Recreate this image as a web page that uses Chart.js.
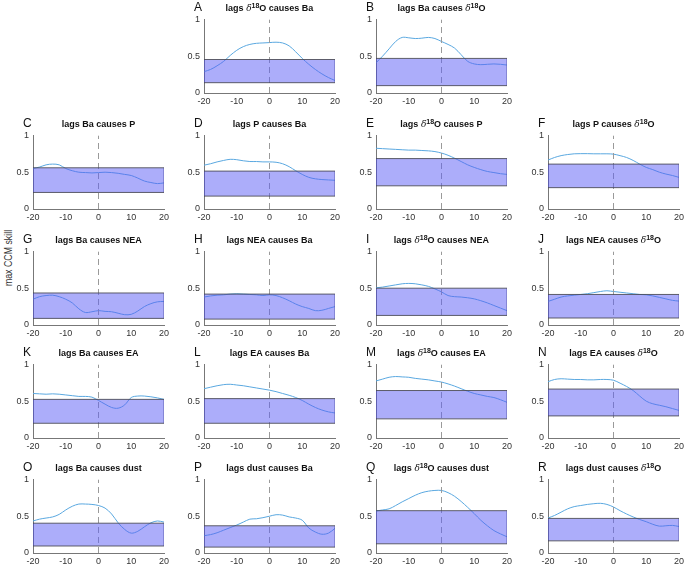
<!DOCTYPE html>
<html>
<head>
<meta charset="utf-8">
<script src="https://cdn.jsdelivr.net/npm/chart.js@4.4.0/dist/chart.umd.min.js"></script>
<style>
    body { margin: 0; background: #fff; }
    #figure { position: relative; width: 685px; height: 566px; overflow: hidden; font-family: "Liberation Sans", Arial, Helvetica, sans-serif; }
    #figure canvas { position: absolute; }
    .panel-title { position: absolute; font-size: 9px; font-weight: bold; line-height: 9px; text-align: center; white-space: nowrap; color: #111; }
    .panel-title i { font-family: "DejaVu Serif", "Liberation Serif", serif; font-weight: normal; font-size: 9px; }
    .panel-title sup { font-size: 7px; line-height: 0; vertical-align: 3px; }
    .panel-letter { position: absolute; font-size: 12px; line-height: 12px; color: #111; }
    #ylabel { position: absolute; left: 8px; top: 258px; transform: translate(-50%, -50%) rotate(-90deg) scaleX(0.88); font-size: 10px; white-space: nowrap; color: #333; }
</style>
</head>
<body>
<div id="figure">
    <div id="ylabel">max CCM skill</div>
</div>
<script>
// lag axis (years) shared by every panel
const lags = [-20, -18, -16, -14, -12, -10, -8, -6, -4, -2, 0, 2, 4, 6, 8, 10, 12, 14, 16, 18, 20];
const xTicks = [-20, -10, 0, 10, 20];
const yTicks = [0, 0.5, 1];

const panelLetters = ['A', 'B', 'C', 'D', 'E', 'F', 'G', 'H', 'I', 'J', 'K', 'L', 'M', 'N', 'O', 'P', 'Q', 'R'];
const d18O = '<i>\u03b4</i><sup>18</sup>O';
const panelTitles = [
    'lags ' + d18O + ' causes Ba', 'lags Ba causes ' + d18O,
    'lags Ba causes P', 'lags P causes Ba', 'lags ' + d18O + ' causes P', 'lags P causes ' + d18O,
    'lags Ba causes NEA', 'lags NEA causes Ba', 'lags ' + d18O + ' causes NEA', 'lags NEA causes ' + d18O,
    'lags Ba causes EA', 'lags EA causes Ba', 'lags ' + d18O + ' causes EA', 'lags EA causes ' + d18O,
    'lags Ba causes dust', 'lags dust causes Ba', 'lags ' + d18O + ' causes dust', 'lags dust causes ' + d18O
];

// max CCM skill per lag
const skillA = [0.29, 0.32, 0.37, 0.43, 0.51, 0.58, 0.63, 0.66, 0.675, 0.68, 0.685, 0.69, 0.68, 0.64, 0.56, 0.47, 0.39, 0.32, 0.26, 0.21, 0.17];
const skillB = [0.41, 0.50, 0.60, 0.70, 0.755, 0.75, 0.74, 0.745, 0.755, 0.74, 0.70, 0.66, 0.61, 0.52, 0.43, 0.395, 0.385, 0.39, 0.395, 0.39, 0.38];
const skillC = [0.55, 0.57, 0.60, 0.61, 0.60, 0.55, 0.52, 0.50, 0.495, 0.49, 0.495, 0.50, 0.495, 0.485, 0.47, 0.455, 0.42, 0.38, 0.36, 0.345, 0.355];
const skillD = [0.595, 0.615, 0.64, 0.66, 0.675, 0.67, 0.655, 0.645, 0.645, 0.64, 0.64, 0.635, 0.615, 0.575, 0.52, 0.47, 0.43, 0.41, 0.40, 0.395, 0.39];
const skillE = [0.825, 0.82, 0.815, 0.81, 0.805, 0.80, 0.80, 0.795, 0.79, 0.78, 0.76, 0.73, 0.69, 0.645, 0.60, 0.565, 0.535, 0.51, 0.495, 0.48, 0.47];
const skillF = [0.665, 0.70, 0.725, 0.74, 0.75, 0.752, 0.752, 0.75, 0.75, 0.75, 0.745, 0.725, 0.70, 0.66, 0.61, 0.565, 0.535, 0.50, 0.475, 0.455, 0.43];
const skillG = [0.35, 0.385, 0.40, 0.405, 0.385, 0.35, 0.30, 0.22, 0.17, 0.18, 0.195, 0.185, 0.18, 0.16, 0.14, 0.145, 0.19, 0.25, 0.29, 0.315, 0.32];
const skillH = [0.38, 0.395, 0.405, 0.41, 0.42, 0.425, 0.42, 0.415, 0.41, 0.40, 0.41, 0.40, 0.37, 0.33, 0.285, 0.25, 0.225, 0.195, 0.20, 0.225, 0.25];
const skillI = [0.505, 0.515, 0.53, 0.545, 0.56, 0.565, 0.56, 0.545, 0.525, 0.49, 0.45, 0.40, 0.385, 0.38, 0.37, 0.355, 0.33, 0.30, 0.265, 0.23, 0.195];
const skillJ = [0.32, 0.35, 0.38, 0.395, 0.405, 0.415, 0.425, 0.44, 0.455, 0.465, 0.455, 0.445, 0.435, 0.425, 0.415, 0.41, 0.395, 0.375, 0.355, 0.335, 0.325];
const skillK = [0.605, 0.60, 0.595, 0.60, 0.595, 0.585, 0.575, 0.565, 0.565, 0.555, 0.51, 0.46, 0.415, 0.405, 0.45, 0.55, 0.57, 0.57, 0.56, 0.545, 0.525];
const skillL = [0.67, 0.69, 0.71, 0.725, 0.73, 0.72, 0.71, 0.695, 0.68, 0.665, 0.65, 0.63, 0.605, 0.58, 0.55, 0.51, 0.46, 0.415, 0.38, 0.355, 0.34];
const skillM = [0.775, 0.80, 0.825, 0.835, 0.83, 0.825, 0.81, 0.80, 0.79, 0.775, 0.76, 0.735, 0.705, 0.67, 0.635, 0.605, 0.585, 0.565, 0.55, 0.52, 0.485];
const skillN = [0.765, 0.795, 0.805, 0.80, 0.795, 0.795, 0.79, 0.79, 0.795, 0.795, 0.785, 0.745, 0.70, 0.645, 0.57, 0.50, 0.465, 0.445, 0.425, 0.40, 0.375];
const skillO = [0.435, 0.46, 0.475, 0.49, 0.525, 0.585, 0.635, 0.665, 0.665, 0.66, 0.645, 0.61, 0.53, 0.41, 0.32, 0.27, 0.295, 0.355, 0.41, 0.435, 0.42];
const skillP = [0.235, 0.25, 0.275, 0.31, 0.345, 0.38, 0.42, 0.46, 0.465, 0.48, 0.50, 0.52, 0.515, 0.49, 0.475, 0.445, 0.34, 0.285, 0.255, 0.27, 0.335];
const skillQ = [0.57, 0.585, 0.60, 0.645, 0.695, 0.74, 0.785, 0.82, 0.84, 0.85, 0.85, 0.82, 0.77, 0.70, 0.62, 0.535, 0.445, 0.37, 0.305, 0.26, 0.22];
const skillR = [0.475, 0.51, 0.555, 0.60, 0.63, 0.645, 0.66, 0.67, 0.675, 0.66, 0.625, 0.575, 0.53, 0.49, 0.455, 0.425, 0.39, 0.365, 0.37, 0.375, 0.36];

// null-model band (shaded box) for each panel, A..R
const bandLow  = [0.14, 0.10, 0.225, 0.175, 0.315, 0.29, 0.09, 0.08, 0.13, 0.095, 0.20, 0.20, 0.26, 0.30, 0.095, 0.08, 0.125, 0.165];
const bandHigh = [0.455, 0.47, 0.56, 0.515, 0.685, 0.61, 0.435, 0.42, 0.50, 0.415, 0.525, 0.535, 0.645, 0.665, 0.405, 0.37, 0.575, 0.47];

const allSkills = [skillA, skillB, skillC, skillD, skillE, skillF, skillG, skillH, skillI, skillJ, skillK, skillL, skillM, skillN, skillO, skillP, skillQ, skillR];

// layout of the grid (pixels)
const colLeft = [33, 204, 376, 548];
const rowTop = [16, 132, 248, 361, 476];
const plotW = 131;
const plotH = 77;
const padL = 30, padT = 6, padR = 10, padB = 18;

const figure = document.getElementById('figure');

function panelSlot(i) {
    if (i < 2) return { col: i + 1, row: 0 };
    return { col: (i - 2) % 4, row: 1 + Math.floor((i - 2) / 4) };
}

const tickFont = { size: 9, family: '"Liberation Sans", Arial, sans-serif' };

allSkills.forEach((skill, i) => {
    const slot = panelSlot(i);
    const left = colLeft[slot.col];
    const top = rowTop[slot.row];

    const canvas = document.createElement('canvas');
    canvas.width = padL + plotW + padR;
    canvas.height = padT + plotH + padB;
    canvas.style.left = (left - padL) + 'px';
    canvas.style.top = (top - padT) + 'px';
    figure.appendChild(canvas);

    const title = document.createElement('div');
    title.className = 'panel-title';
    title.style.left = left + 'px';
    title.style.width = plotW + 'px';
    title.style.top = (top - 12) + 'px';
    title.innerHTML = panelTitles[i];
    figure.appendChild(title);

    const letter = document.createElement('div');
    letter.className = 'panel-letter';
    letter.style.left = (left - 10) + 'px';
    letter.style.top = (top - 15) + 'px';
    letter.textContent = panelLetters[i];
    figure.appendChild(letter);

    const lo = bandLow[i], hi = bandHigh[i];
    const edge = 'rgba(70,70,80,0.85)';
    const line = (data, extra) => Object.assign({
        data, showLine: true, pointRadius: 0, borderWidth: 1, borderColor: edge, fill: false
    }, extra);

    new Chart(canvas, {
        type: 'scatter',
        data: {
            datasets: [
                line([{ x: -20, y: lo }, { x: 20, y: lo }]),
                line([{ x: -20, y: hi }, { x: 20, y: hi }], { fill: '-1', backgroundColor: 'rgba(90,92,245,0.5)' }),
                line([{ x: 20, y: lo }, { x: 20, y: hi }]),
                line([{ x: -20, y: lo }, { x: -20, y: hi }]),
                line([{ x: 0, y: 0 }, { x: 0, y: 1 }], { borderColor: '#9a9a9a', borderDash: [6, 4] }),
                line(lags.map((l, k) => ({ x: l, y: skill[k] })), { borderColor: '#5aa8e0', tension: 0.35 })
            ]
        },
        options: {
            responsive: false,
            animation: false,
            devicePixelRatio: 1,
            layout: { autoPadding: false, padding: { top: padT, right: padR, left: 0, bottom: 0 } },
            plugins: { legend: { display: false }, tooltip: { enabled: false } },
            scales: {
                x: {
                    type: 'linear', min: -20, max: 20,
                    afterBuildTicks: s => { s.ticks = xTicks.map(v => ({ value: v })); },
                    afterFit: s => { s.height = padB; },
                    grid: { display: false, drawTicks: false, tickLength: 0 },
                    border: { color: '#777' },
                    ticks: { color: '#333', padding: 3, maxRotation: 0, font: tickFont, callback: v => String(v) }
                },
                y: {
                    min: 0, max: 1,
                    afterBuildTicks: s => { s.ticks = yTicks.map(v => ({ value: v })); },
                    afterFit: s => { s.width = padL; },
                    grid: { display: false, drawTicks: false, tickLength: 0 },
                    border: { color: '#777' },
                    ticks: { color: '#333', padding: 4, font: tickFont, callback: v => String(v) }
                }
            }
        }
    });
});
</script>
</body>
</html>
